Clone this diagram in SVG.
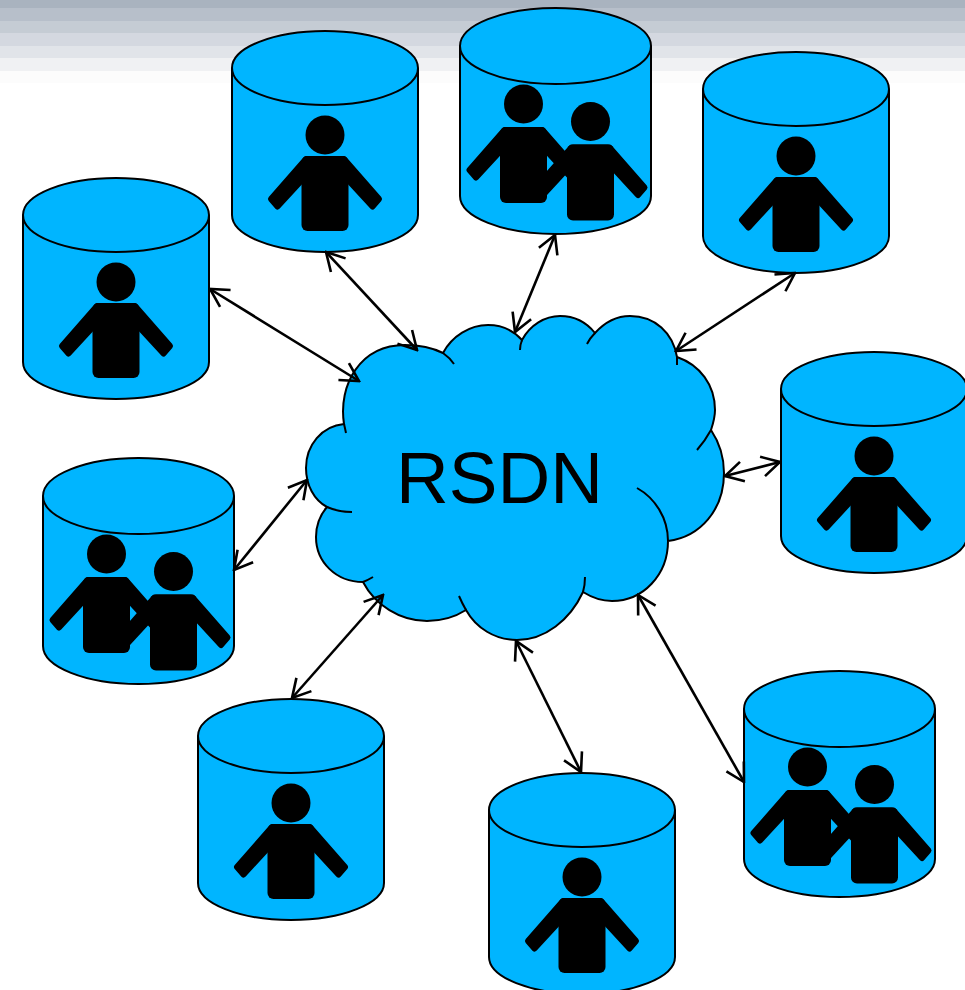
<svg xmlns="http://www.w3.org/2000/svg" xmlns:xlink="http://www.w3.org/1999/xlink" width="965" height="990" viewBox="0 0 965 990">
<style>
.s{fill:#00b5ff;stroke:#000;stroke-width:2}
.i{fill:none;stroke:#000;stroke-width:2}
.c{fill:none;stroke:#000;stroke-width:2.6;marker-start:url(#a);marker-end:url(#a)}
.arm{fill:#000;stroke:#000;stroke-width:6;stroke-linejoin:round}
.t{font-family:"Liberation Sans",Arial,sans-serif;font-size:73px;fill:#000}
</style>
<defs>
<marker id="a" viewBox="-20 -12 22 24" refX="0" refY="0" markerWidth="22" markerHeight="24" markerUnits="userSpaceOnUse" orient="auto-start-reverse">
<path d="M-18 -10L0 0L-18 10" fill="none" stroke="#000" stroke-width="2.6"/>
</marker>
<g id="p">
<circle cx="0" cy="0" r="19.500" fill="#000"/>
<rect x="-23.500" y="21" width="47" height="75" rx="6" fill="#000"/>
<path class="arm" d="M-19 24H19L54 64L47.500 71.500L24 46H-24L-47.500 71.500L-54 64Z"/>
</g>
<g id="q">
<circle cx="0" cy="0" r="19.500" fill="#000"/>
<rect x="-23.500" y="23" width="47" height="76" rx="6" fill="#000"/>
<path class="arm" d="M-19 26H19L54 66L47.500 73.500L24 48H-24L-47.500 73.500L-54 66Z"/>
</g>
<g id="c1">
<path class="s" d="M0 37V184A93 37 0 0 0 186 184V37"/>
<ellipse class="s" cx="93" cy="37" rx="93" ry="37"/>
<use xlink:href="#p" href="#p" x="93" y="104"/>
</g>
<g id="c2">
<path class="s" d="M0 38V188A95.500 38 0 0 0 191 188V38"/>
<ellipse class="s" cx="95.500" cy="38" rx="95.500" ry="38"/>
<use xlink:href="#q" href="#q" x="63.500" y="96"/>
<use xlink:href="#q" href="#q" x="130.500" y="113.500"/>
</g>
</defs>
<g id="background">
<rect x="0" y="0" width="965" height="8" fill="#a9b3bf"/>
<rect x="0" y="8" width="965" height="13" fill="#b7bfca"/>
<rect x="0" y="21" width="965" height="12" fill="#c5ccd4"/>
<rect x="0" y="33" width="965" height="13" fill="#d4d8e0"/>
<rect x="0" y="46" width="965" height="12" fill="#e1e4e9"/>
<rect x="0" y="58" width="965" height="13" fill="#f0f1f3"/>
<rect x="0" y="71" width="965" height="12" fill="#fcfcfc"/>
<rect x="0" y="83" width="965" height="907" fill="#fff"/>
</g>
<g id="node-a"><use xlink:href="#c1" href="#c1" x="23" y="178"/></g>
<g id="node-b"><use xlink:href="#c1" href="#c1" x="232" y="31"/></g>
<g id="node-c"><use xlink:href="#c2" href="#c2" x="460" y="8"/></g>
<g id="node-d"><use xlink:href="#c1" href="#c1" x="703" y="52"/></g>
<g id="node-e"><use xlink:href="#c1" href="#c1" x="781" y="352"/></g>
<g id="node-f"><use xlink:href="#c2" href="#c2" x="744" y="671"/></g>
<g id="node-g"><use xlink:href="#c1" href="#c1" x="489" y="773"/></g>
<g id="node-h"><use xlink:href="#c1" href="#c1" x="198" y="699"/></g>
<g id="node-i"><use xlink:href="#c2" href="#c2" x="43" y="458"/></g>
<g id="node-cloud">
<path class="s" d="M344 424C338 385 360 345 405 345C420 345 433 348 443 353C452 336 470 325 488 325C502 325 514 331 522 340C530 325 545 316 560 316C575 316 587 323 595 333C605 322 617 316 630 316C655 316 673 333 677 357C700 365 715 385 715 410C715 418 713 424 711 430C719 442 724 457 724 473C724 510 700 537 668 541C668 575 643 601 612 601C601 601 591 597 583 592C570 620 545 640 517 640C495 640 476 628 466 610C455 617 441 621 427 621C400 621 375 605 363 582C336 582 316 562 316 537C316 525 320 515 327 507C314 500 306 485 306 468C306 445 322 426 344 424Z"/>
<path class="i" d="M443 353Q450 358 454 364M522 340Q520 345 520 350M595 333Q590 338 587 344M677 357Q677 361 677 365M711 430Q705 441 697 450M637 488C655 498 668 518 668 541M583 592Q585 585 585 577M459 596Q462 603 466 610M363 582Q368 580 373 577M327 507Q338 512 352 512M344 424Q345 428 346 433"/>
<text class="t" x="396" y="503">RSDN</text>
</g>
<g id="connectors">
<line class="c" x1="210" y1="289" x2="359" y2="381"/>
<line class="c" x1="326" y1="252" x2="417" y2="350"/>
<line class="c" x1="555" y1="235" x2="515" y2="332"/>
<line class="c" x1="795" y1="273" x2="676" y2="351"/>
<line class="c" x1="780" y1="462" x2="725" y2="476"/>
<line class="c" x1="638" y1="595" x2="744" y2="782"/>
<line class="c" x1="516" y1="641" x2="581" y2="772"/>
<line class="c" x1="383" y1="595" x2="292" y2="698"/>
<line class="c" x1="234" y1="570" x2="307" y2="480"/>
</g>
</svg>
